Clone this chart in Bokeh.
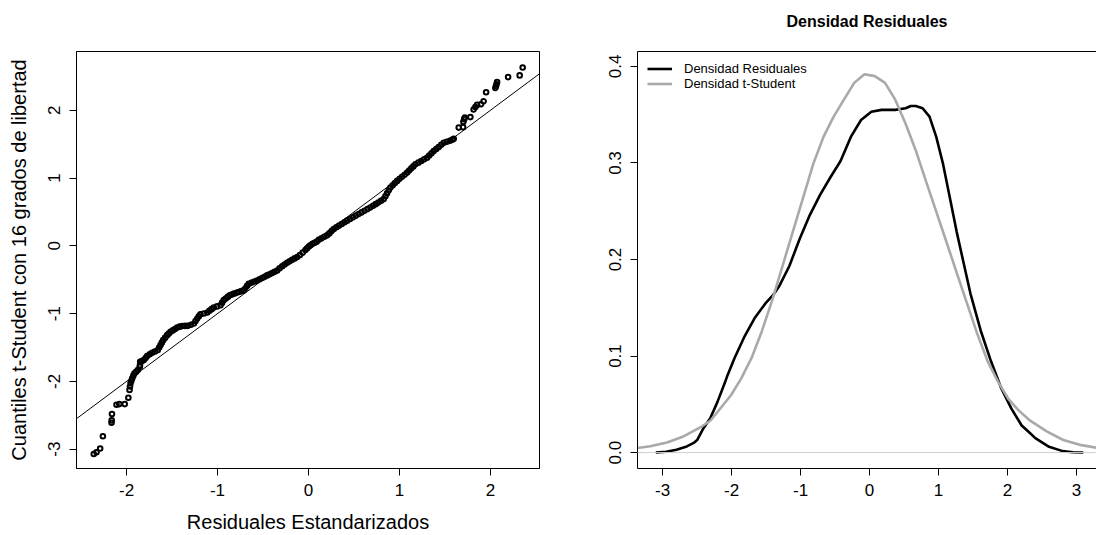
from bokeh.plotting import figure
from bokeh.layouts import row
from bokeh.models import (ColumnDataSource, FixedTicker, CustomJSTickFormatter,
                          Slope, Span, LinearAxis, Range1d)
from bokeh.embed import file_html
from bokeh.resources import INLINE

FONT = "Liberation Sans"

# Q-Q pairs: standardized residuals (x) against t-Student(16) quantiles (y)
qq_resid = [
    -2.36, -2.33, -2.29, -2.26, -2.165, -2.163, -2.16, -2.11, -2.08, -2.02, -1.98,
    -1.967, -1.962, -1.956, -1.947, -1.937, -1.925, -1.912, -1.894, -1.876, -1.854,
    -1.852, -1.85, -1.83, -1.81, -1.79, -1.773, -1.745, -1.718, -1.688, -1.656,
    -1.641, -1.626, -1.612, -1.597, -1.575, -1.553, -1.535, -1.516, -1.492, -1.467,
    -1.443, -1.415, -1.388, -1.357, -1.326, -1.293, -1.26, -1.241, -1.223, -1.205,
    -1.187, -1.15, -1.113, -1.089, -1.065, -1.041, -1.004, -0.967, -0.949, -0.931,
    -0.909, -0.887, -0.865, -0.843, -0.821, -0.793, -0.766, -0.738, -0.711, -0.693,
    -0.674, -0.656, -0.625, -0.595, -0.564, -0.537, -0.509, -0.482, -0.454, -0.427,
    -0.399, -0.372, -0.344, -0.317, -0.289, -0.262, -0.234, -0.207, -0.179, -0.152,
    -0.124, -0.094, -0.063, -0.033, -0.015, 0.004, 0.022, 0.045, 0.068, 0.09,
    0.113, 0.144, 0.174, 0.205, 0.229, 0.254, 0.278, 0.307, 0.337, 0.366,
    0.396, 0.425, 0.457, 0.489, 0.521, 0.553, 0.585, 0.617, 0.649, 0.681,
    0.71, 0.739, 0.769, 0.798, 0.827, 0.846, 0.864, 0.883, 0.901, 0.926,
    0.95, 0.975, 1.003, 1.03, 1.058, 1.085, 1.108, 1.131, 1.153, 1.176,
    1.208, 1.24, 1.272, 1.304, 1.328, 1.353, 1.377, 1.405, 1.432, 1.46,
    1.487, 1.521, 1.555, 1.58, 1.597,
    1.652, 1.70, 1.703, 1.712, 1.72, 1.78, 1.816, 1.835, 1.854, 1.898, 1.926,
    1.953, 2.055, 2.062, 2.068, 2.074, 2.195, 2.322, 2.355,
]
qq_tquant = [
    -3.07, -3.045, -2.99, -2.81, -2.61, -2.575, -2.48, -2.345, -2.335, -2.335, -2.24,
    -2.125, -2.075, -2.026, -1.99, -1.953, -1.915, -1.88, -1.857, -1.831, -1.783,
    -1.76, -1.71, -1.70, -1.684, -1.655, -1.626, -1.60, -1.577, -1.558, -1.538,
    -1.50, -1.464, -1.428, -1.391, -1.354, -1.317, -1.292, -1.269, -1.247, -1.226,
    -1.204, -1.192, -1.183, -1.181, -1.18, -1.165, -1.145, -1.108, -1.072, -1.04,
    -1.009, -0.997, -0.984, -0.958, -0.934, -0.91, -0.893, -0.877, -0.838, -0.80,
    -0.777, -0.753, -0.73, -0.718, -0.705, -0.693, -0.681, -0.668, -0.656, -0.623,
    -0.59, -0.558, -0.542, -0.526, -0.51, -0.492, -0.473, -0.455, -0.436, -0.418,
    -0.40, -0.381, -0.363, -0.332, -0.30, -0.275, -0.25, -0.228, -0.205, -0.185,
    -0.165, -0.135, -0.10, -0.06, -0.035, -0.01, 0.01, 0.03, 0.045, 0.062,
    0.09, 0.11, 0.135, 0.155, 0.184, 0.217, 0.25, 0.274, 0.299, 0.323,
    0.348, 0.372, 0.397, 0.421, 0.446, 0.47, 0.494, 0.518, 0.543, 0.567,
    0.592, 0.616, 0.641, 0.665, 0.69, 0.733, 0.776, 0.818, 0.861, 0.894,
    0.926, 0.959, 0.99, 1.02, 1.05, 1.081, 1.112, 1.143, 1.173, 1.204,
    1.228, 1.253, 1.277, 1.301, 1.334, 1.366, 1.399, 1.43, 1.46, 1.491,
    1.521, 1.536, 1.55, 1.565, 1.58,
    1.745, 1.752, 1.83, 1.87, 1.895, 1.90, 2.012, 2.05, 2.08, 2.09, 2.134,
    2.266, 2.329, 2.36, 2.385, 2.417, 2.49, 2.515, 2.633,
]

# Kernel density of the residuals
dens_res_x = [-3.10, -2.95, -2.80, -2.65, -2.55, -2.50, -2.41, -2.31, -2.205, -2.10,
              -2.056, -1.957, -1.808, -1.66, -1.51, -1.40, -1.313, -1.164, -1.015, -0.866,
              -0.717, -0.569, -0.42, -0.271, -0.123, 0.026, 0.175, 0.373, 0.522, 0.60,
              0.671, 0.77, 0.87, 0.968, 1.067, 1.166, 1.265, 1.364, 1.463, 1.612,
              1.761, 1.91, 2.058, 2.207, 2.33, 2.405, 2.604, 2.802, 2.95, 3.10]
dens_res_y = [0.0, 0.0008, 0.003, 0.0064, 0.010, 0.013, 0.025, 0.0355, 0.0525, 0.072,
              0.0807, 0.098, 0.121, 0.140, 0.1545, 0.163, 0.172, 0.193, 0.221, 0.246,
              0.267, 0.285, 0.302, 0.327, 0.3445, 0.353, 0.355, 0.355, 0.3567, 0.359,
              0.359, 0.3567, 0.348, 0.327, 0.2988, 0.2637, 0.2284, 0.1967, 0.165, 0.1265,
              0.0948, 0.0666, 0.0455, 0.028, 0.020, 0.015, 0.006, 0.0015, 0.0004, 0.0]

# Density of the t-Student reference
dens_t_x = [-3.365, -3.18, -2.938, -2.698, -2.455, -2.31, -2.205, -2.007, -1.858, -1.709,
            -1.56, -1.411, -1.263, -1.114, -0.965, -0.817, -0.668, -0.52, -0.371, -0.222,
            -0.073, 0.076, 0.225, 0.373, 0.522, 0.671, 0.82, 0.968, 1.117, 1.265,
            1.414, 1.563, 1.712, 1.861, 2.01, 2.158, 2.33, 2.57, 2.81, 3.05, 3.29]
dens_t_y = [0.0047, 0.0065, 0.0105, 0.0167, 0.026, 0.033, 0.042, 0.0596, 0.0772, 0.0983,
            0.126, 0.158, 0.193, 0.2284, 0.2637, 0.2988, 0.327, 0.348, 0.3656, 0.383,
            0.392, 0.390, 0.383, 0.3656, 0.341, 0.313, 0.281, 0.2496, 0.2179, 0.1862,
            0.1546, 0.123, 0.0948, 0.0737, 0.056, 0.044, 0.033, 0.022, 0.013, 0.008, 0.005]

qq_xticks = [-2, -1, 0, 1, 2]
qq_yticks = [-3, -2, -1, 0, 1, 2]
dens_xticks = [-3, -2, -1, 0, 1, 2, 3]
dens_yticks = [0.0, 0.1, 0.2, 0.3, 0.4]

int_fmt = CustomJSTickFormatter(code="return String(tick);")
one_dec_fmt = CustomJSTickFormatter(code="return tick.toFixed(1);")


def style_axes(p):
    for ax in p.xaxis + p.yaxis:
        ax.axis_line_color = "black"
        ax.axis_line_width = 1
        ax.major_tick_line_color = "black"
        ax.major_tick_in = 0
        ax.major_tick_out = 7
        ax.minor_tick_line_color = None
        ax.major_label_text_font = FONT
        ax.major_label_text_font_size = "17px"
        ax.major_label_text_color = "black"
        ax.major_label_standoff = 8
        ax.axis_label_text_font = FONT
        ax.axis_label_text_font_size = "20px"
        ax.axis_label_text_font_style = "normal"
        ax.axis_label_text_color = "black"
    p.yaxis.major_label_orientation = "vertical"
    p.yaxis.major_label_standoff = 9
    p.xgrid.grid_line_color = None
    p.ygrid.grid_line_color = None


# ---- Q-Q plot ----
p1 = figure(width=588, height=535, output_backend="svg", toolbar_location=None,
            x_range=Range1d(-2.55, 2.54), y_range=Range1d(-3.285, 2.868),
            min_border_left=76, min_border_right=49, min_border_top=50,
            min_border_bottom=66, background_fill_color="white",
            border_fill_color="white")
p1.outline_line_color = "black"
p1.outline_line_width = 1
src_qq = ColumnDataSource(dict(x=qq_resid, y=qq_tquant))
p1.scatter("x", "y", source=src_qq, marker="circle", size=4.6,
           fill_color=None, line_color="black", line_width=2.0)
p1.add_layout(Slope(gradient=1, y_intercept=0, line_color="black", line_width=1))
p1.xaxis.ticker = FixedTicker(ticks=qq_xticks)
p1.yaxis.ticker = FixedTicker(ticks=qq_yticks)
p1.xaxis.formatter = int_fmt
p1.yaxis.formatter = int_fmt
p1.xaxis.axis_label = "Residuales Estandarizados"
p1.yaxis.axis_label = "Cuantiles t-Student con 16 grados de libertad"
style_axes(p1)
p1.xaxis.axis_label_standoff = 12
p1.yaxis.axis_label_standoff = 16

# ---- density plot ----
p2 = figure(width=508, height=535, output_backend="svg", toolbar_location=None,
            x_range=Range1d(-3.365, 3.292), y_range=Range1d(-0.0165, 0.4155),
            min_border_left=49, min_border_right=0, min_border_top=51,
            min_border_bottom=65, background_fill_color="white",
            border_fill_color="white")
p2.outline_line_color = None
src_res = ColumnDataSource(dict(x=dens_res_x, y=dens_res_y))
src_t = ColumnDataSource(dict(x=dens_t_x, y=dens_t_y))
p2.line("x", "y", source=src_res, line_color="black", line_width=2.6,
        legend_label="Densidad Residuales")
p2.add_layout(Span(location=0, dimension="width", line_color="#cfcfcf", line_width=1))
p2.line("x", "y", source=src_t, line_color="#a9a9a9", line_width=2.6,
        legend_label="Densidad t-Student")
p2.xaxis.ticker = FixedTicker(ticks=dens_xticks)
p2.yaxis.ticker = FixedTicker(ticks=dens_yticks)
p2.xaxis.formatter = int_fmt
p2.yaxis.formatter = one_dec_fmt
style_axes(p2)

# top edge of the box; its label carries the panel title
top_edge = LinearAxis(ticker=FixedTicker(ticks=[]), axis_line_color="black",
                      axis_line_width=1, major_tick_line_color=None,
                      major_tick_out=0, major_tick_in=0,
                      minor_tick_line_color=None, major_label_text_font_size="0px",
                      major_label_standoff=0,
                      axis_label="Densidad Residuales",
                      axis_label_text_font=FONT, axis_label_text_font_size="16px",
                      axis_label_text_font_style="bold", axis_label_text_color="black",
                      axis_label_standoff=22)
p2.add_layout(top_edge, "above")

lg = p2.legend[0]
lg.location = "top_left"
lg.border_line_color = None
lg.background_fill_alpha = 0
lg.label_text_font = FONT
lg.label_text_font_size = "13px"
lg.label_text_color = "black"
lg.glyph_width = 25
lg.glyph_height = 15
lg.label_height = 15
lg.spacing = 0
lg.padding = 9
lg.margin = 10
lg.label_standoff = 12

layout = row(p1, p2)
open("out.html", "w").write(file_html(layout, INLINE))
